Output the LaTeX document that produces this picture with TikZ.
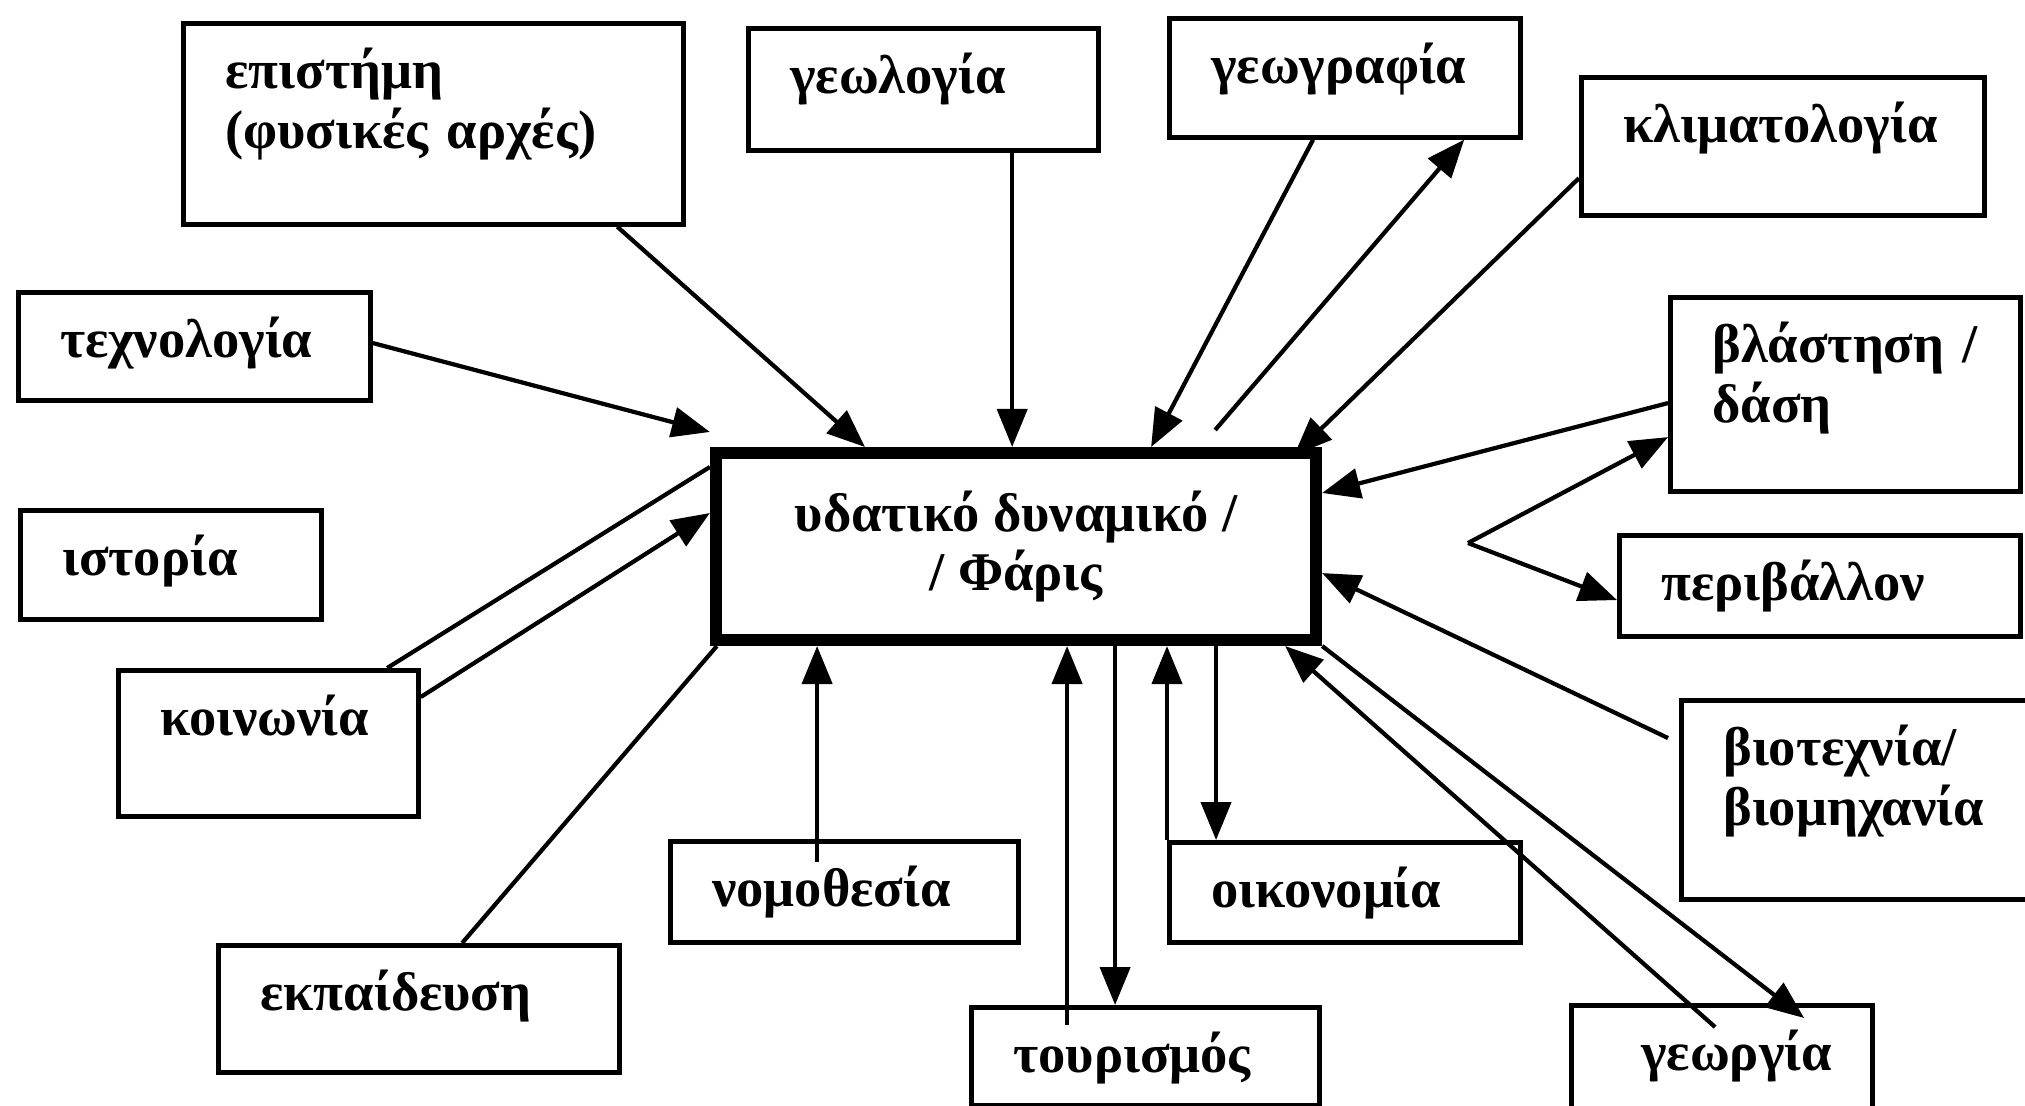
\documentclass[tikz,border=0pt]{standalone}
\usepackage{fontspec}
\setmainfont{Liberation Serif}
\usetikzlibrary{arrows.meta}

\tikzset{
  topic/.style={draw, line width=1.3pt, anchor=north west, align=left,
    inner xsep=0.42cm, inner ysep=0pt, text height=0.65cm,
    font=\fontsize{15.5}{17}\selectfont\bfseries},
  hub/.style={draw, line width=3.4pt, minimum width=6cm, minimum height=1.87cm,
    align=center, font=\fontsize{15.5}{17}\selectfont\bfseries},
  arr/.style={line width=1.2pt, -{Triangle[length=0.38cm,width=0.3cm]}},
  link/.style={line width=1.2pt}
}

\begin{document}
\begin{tikzpicture}[x=0.01cm, y=-0.01cm]
        \useasboundingbox (0,0) rectangle (2025,1105);
        \node[hub] (cen) at (1016,546.5) {υδατικό δυναμικό /\\/ Φάρις};
        \node[topic, text width=4.16cm, text depth=1.36cm] (epist) at (181,21) {επιστήμη\\(φυσικές αρχές)};
        \node[topic, text width=2.66cm, text depth=0.57cm] (geol) at (746,26) {γεωλογία};
        \node[topic, text width=2.67cm, text depth=0.54cm] (geog) at (1167,16) {γεωγραφία};
        \node[topic, text width=3.19cm, text depth=0.73cm] (klim) at (1579,75) {κλιματολογία};
        \node[topic, text width=2.66cm, text depth=1.29cm] (vlast) at (1668,295) {βλάστηση /\\δάση};
        \node[topic, text width=3.17cm, text depth=0.36cm] (periv) at (1617,533) {περιβάλλον};
        \node[topic, text width=2.70cm, text depth=1.34cm] (viot) at (1679,698) {βιοτεχνία/\\βιομηχανία};
        \node[topic, text width=1.61cm, text depth=0.42cm, inner xsep=0.7cm] (georg) at (1569,1003) {γεωργία};
        \node[topic, text width=2.64cm, text depth=0.33cm] (tour) at (969,1005) {τουρισμός};
        \node[topic, text width=2.67cm, text depth=0.35cm] (oikon) at (1167,840) {οικονομία};
        \node[topic, text width=2.64cm, text depth=0.36cm] (nomo) at (668,839) {νομοθεσία};
        \node[topic, text width=3.17cm, text depth=0.62cm] (ekp) at (216,943) {εκπαίδευση};
        \node[topic, text width=2.16cm, text depth=0.81cm] (koin) at (116,668) {κοινωνία};
        \node[topic, text width=2.17cm, text depth=0.44cm] (istor) at (18,508) {ιστορία};
        \node[topic, text width=2.68cm, text depth=0.43cm] (techn) at (16,290) {τεχνολογία};
        \coordinate (fork) at (1468,543);

        \draw[arr] ([xshift=4.36cm]epist.south west) -- ([xshift=1.55cm]cen.north west);
        \draw[arr] ([xshift=2.66cm]geol.south west) -- ([xshift=2.66cm]geol.south west |- cen.north);
        \draw[arr] ([xshift=1.46cm]geog.south west) -- ([xshift=4.41cm]cen.north west);
        \draw[arr] ([xshift=5.05cm,yshift=0.17cm]cen.north west) -- ([xshift=2.97cm]geog.south west);
        \draw[arr] ([yshift=-1.03cm]klim.north west) -- ([xshift=-0.28cm,yshift=-0.08cm]cen.north east);
        \draw[arr] ([yshift=-1.08cm]vlast.north west) -- ([yshift=-0.46cm]cen.north east);
        \draw[arr] (fork) -- ([yshift=-1.42cm]vlast.north west);
        \draw[arr] (fork) -- ([yshift=-0.67cm]periv.north west);
        \draw[arr] ([xshift=-0.11cm,yshift=-0.4cm]viot.north west) -- ([yshift=-1.26cm]cen.north east);
        \draw[arr] ([xshift=1.46cm,yshift=-0.24cm]georg.north west) -- ([xshift=-0.37cm]cen.south east);
        \draw[arr] (cen.south east) -- ([xshift=2.35cm,yshift=-0.15cm]georg.north west);
        \draw[arr] (oikon.north west) -- (oikon.north west |- cen.south);
        \draw[arr] ([xshift=0.49cm]oikon.north west |- cen.south) -- ([xshift=0.49cm]oikon.north west);
        \draw[arr] ([xshift=0.98cm,yshift=-0.2cm]tour.north west) -- ([xshift=0.98cm]tour.north west |- cen.south);
        \draw[arr] ([xshift=1.46cm]tour.north west |- cen.south) -- ([xshift=1.46cm]tour.north west);
        \draw[arr] ([xshift=1.49cm,yshift=-0.23cm]nomo.north west) -- ([xshift=1.49cm]nomo.north west |- cen.south);
        \draw[link] ([xshift=2.46cm]ekp.north west) -- ([xshift=0.07cm]cen.south west);
        \draw[link] ([xshift=2.71cm]koin.north west) -- ([yshift=-0.2cm]cen.north west);
        \draw[arr] ([yshift=-0.29cm]koin.north east) -- ([yshift=-0.66cm]cen.north west);
        \draw[arr] ([yshift=-0.53cm]techn.north east) -- ([yshift=0.15cm]cen.north west);
\end{tikzpicture}
\end{document}
